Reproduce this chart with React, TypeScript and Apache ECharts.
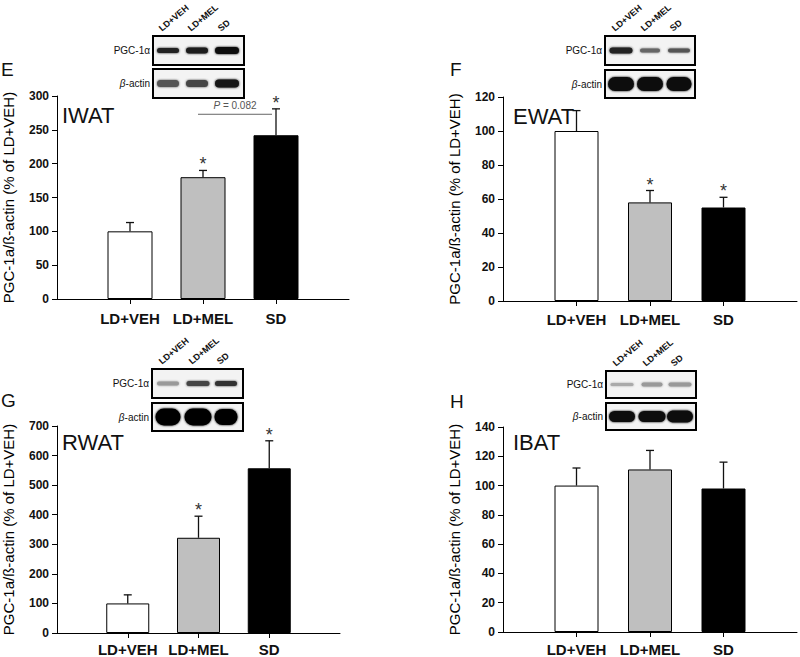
import React, { useEffect, useRef } from 'react';
import * as echarts from 'echarts';

const categories = ['LD+VEH', 'LD+MEL', 'SD'];
const iwatMean = [100, 180, 242];
const iwatErr = [13, 10, 39];
const iwatSig = [0, 1, 1];
const ewatMean = [100, 58, 55];
const ewatErr = [12, 7, 6];
const ewatSig = [0, 1, 1];
const rwatMean = [100, 322, 557];
const rwatErr = [29, 73, 93];
const rwatSig = [0, 1, 1];
const ibatMean = [100, 111, 98];
const ibatErr = [12, 13, 18];
const ibatSig = [0, 0, 0];
// bracket in IWAT: from category index, to category index, value
const iwatBracket = [1, 2, 273];
const iwatBracketLabel = '{i|P} = 0.082';
const panelLetters = ['E', 'F', 'G', 'H'];
const tissueNames = ['IWAT', 'EWAT', 'RWAT', 'IBAT'];
const yMax = [300, 120, 700, 140];
const yInterval = [50, 20, 100, 20];
const barColors = ['#ffffff', '#bfbfbf', '#000000'];
const yAxisName = 'PGC-1a/ß-actin (% of LD+VEH)';
const blotLanes = ['LD+VEH', 'LD+MEL', 'SD'];

const FF = '"Liberation Sans", Arial, Helvetica, sans-serif';

const means = [iwatMean, ewatMean, rwatMean, ibatMean];
const errs = [iwatErr, ewatErr, rwatErr, ibatErr];
const sigs = [iwatSig, ewatSig, rwatSig, ibatSig];

const layouts = [
  { left: 55, top: 96, width: 294, height: 203, barWidth: 45, labelMargin: 12, letterX: 1, letterY: 69, nameX: 62, nameY: 115 },
  { left: 503, top: 97, width: 295, height: 204, barWidth: 44, labelMargin: 11, letterX: 450, letterY: 69, nameX: 513, nameY: 116 },
  { left: 55, top: 426, width: 285, height: 207, barWidth: 43, labelMargin: 9, letterX: 1, letterY: 400, nameX: 62, nameY: 442 },
  { left: 503, top: 427, width: 295, height: 205, barWidth: 44, labelMargin: 10, letterX: 450, letterY: 401, nameX: 513, nameY: 442 },
];

// western blot insets (decorative)
const blots = [
  {
    x: 153, w: 91, y1: 36, h1: 29, y2: 69, h2: 29, lanes: [15, 44, 74],
    pgc: [[22, 5, '#222'], [22, 6, '#1c1c1c'], [24, 7, '#0e0e0e']],
    act: [[22, 7, '#555'], [22, 7, '#444'], [24, 8, '#151515']],
  },
  {
    x: 605, w: 90, y1: 36, h1: 29, y2: 70, h2: 28, lanes: [16, 45, 74],
    pgc: [[23, 6, '#222'], [20, 4, '#666'], [22, 4, '#555']],
    act: [[26, 14, '#0a0a0a'], [26, 14, '#0a0a0a'], [25, 14, '#0a0a0a']],
  },
  {
    x: 152, w: 91, y1: 369, h1: 29, y2: 403, h2: 28, lanes: [16, 46, 74],
    pgc: [[22, 4, '#999'], [23, 5, '#444'], [22, 5, '#333']],
    act: [[25, 17, '#050505'], [27, 17, '#050505'], [23, 16, '#050505']],
  },
  {
    x: 606, w: 90, y1: 371, h1: 27, y2: 403, h2: 27, lanes: [16, 46, 74],
    pgc: [[23, 3, '#aaa'], [21, 4, '#999'], [23, 4, '#999']],
    act: [[26, 11, '#111'], [27, 11, '#111'], [26, 12, '#111']],
  },
];

function buildGraphic() {
  const g: any[] = [];
  layouts.forEach((l, i) => {
    g.push({ type: 'text', x: l.letterX, y: l.letterY, style: { text: panelLetters[i], fontSize: 19, fontFamily: FF, fill: '#111', align: 'left', verticalAlign: 'middle' } });
    g.push({ type: 'text', x: l.nameX, y: l.nameY, style: { text: tissueNames[i], fontSize: 22, fontFamily: FF, fill: '#111', align: 'left', verticalAlign: 'middle' } });
  });
  blots.forEach((b) => {
    const rows = [
      { y: b.y1, h: b.h1, bands: b.pgc },
      { y: b.y2, h: b.h2, bands: b.act },
    ];
    rows.forEach((r) => {
      g.push({ type: 'rect', shape: { x: b.x, y: r.y, width: b.w, height: r.h }, style: { fill: '#f3f3f3', stroke: '#000', lineWidth: 2 } });
      r.bands.forEach((bd: any, k: number) => {
        const cx = b.x + b.lanes[k];
        const cy = r.y + r.h / 2;
        g.push({
          type: 'rect',
          shape: { x: cx - bd[0] / 2, y: cy - bd[1] / 2, width: bd[0], height: bd[1], r: bd[1] / 2 },
          style: { fill: bd[2], shadowBlur: 2, shadowColor: bd[2] },
        });
      });
    });
    g.push({ type: 'text', x: b.x - 3, y: b.y1 + b.h1 / 2, style: { text: 'PGC-1α', fontSize: 10, fontFamily: FF, fill: '#111', align: 'right', verticalAlign: 'middle' } });
    g.push({
      type: 'text', x: b.x - 3, y: b.y2 + b.h2 / 2,
      style: { text: '{i|β}-actin', rich: { i: { fontStyle: 'italic', fontSize: 10, fontFamily: FF, fill: '#111' } }, fontSize: 10, fontFamily: FF, fill: '#111', align: 'right', verticalAlign: 'middle' },
    });
    blotLanes.forEach((t, k) => {
      g.push({
        type: 'text', x: b.x + b.lanes[k] - 5, y: b.y1 - 3, rotation: 0.7,
        style: { text: t, fontSize: 9, fontWeight: 'bold', fontFamily: FF, fill: '#111', align: 'left', verticalAlign: 'bottom' },
      });
    });
  });
  return g;
}

function errorRender(params: any, api: any) {
  const x = api.value(0);
  const m = api.value(1);
  const e = api.value(2);
  const s = api.value(3);
  const p0 = api.coord([x, m]);
  const p1 = api.coord([x, m + e]);
  const children: any[] = [
    { type: 'line', shape: { x1: p0[0], y1: p0[1], x2: p1[0], y2: p1[1] }, style: { stroke: '#111', lineWidth: 1.3 } },
    { type: 'line', shape: { x1: p1[0] - 4, y1: p1[1], x2: p1[0] + 4, y2: p1[1] }, style: { stroke: '#111', lineWidth: 1.3 } },
  ];
  if (s) {
    children.push({ type: 'text', x: p1[0], y: p1[1] - 6, style: { text: '*', fontSize: 18, fontFamily: FF, fill: '#333', align: 'center', verticalAlign: 'middle' } });
  }
  return { type: 'group', children };
}

function bracketRender(params: any, api: any) {
  const a = api.coord([api.value(0), api.value(2)]);
  const b = api.coord([api.value(1), api.value(2)]);
  const x1 = a[0] - 5;
  const x2 = b[0] - 4;
  return {
    type: 'group',
    children: [
      { type: 'line', shape: { x1, y1: a[1], x2, y2: a[1] }, style: { stroke: '#666', lineWidth: 1 } },
      {
        type: 'text', x: (x1 + x2) / 2, y: a[1] - 9,
        style: { text: iwatBracketLabel, rich: { i: { fontStyle: 'italic', fontSize: 10, fontFamily: FF, fill: '#555' } }, fontSize: 10, fontFamily: FF, fill: '#555', align: 'center', verticalAlign: 'middle' },
      },
    ],
  };
}

export default function App() {
  const ref = useRef<HTMLDivElement>(null);
  useEffect(() => {
    if (!ref.current) return;
    const chart = echarts.init(ref.current, null, { renderer: 'svg' });
    const catData = ['', ...categories, ''];
    const grid = layouts.map((l) => ({ left: l.left, top: l.top, width: l.width, height: l.height, containLabel: false }));
    const xAxis = layouts.map((l, i) => ({
      type: 'category',
      gridIndex: i,
      data: catData,
      boundaryGap: false,
      axisLine: { lineStyle: { color: '#000', width: 1 } },
      axisTick: { length: 5, lineStyle: { color: '#000' }, interval: (idx: number) => idx >= 1 && idx <= 3 },
      axisLabel: { interval: 0, margin: l.labelMargin, fontSize: 15, fontWeight: 'bold', color: '#111', fontFamily: FF },
      splitLine: { show: false },
    }));
    const yAxis = layouts.map((l, i) => ({
      type: 'value',
      gridIndex: i,
      min: 0,
      max: yMax[i],
      interval: yInterval[i],
      name: yAxisName,
      nameLocation: 'middle',
      nameGap: 41,
      nameTextStyle: { fontSize: 15, color: '#000', fontFamily: FF },
      axisLine: { show: true, lineStyle: { color: '#000', width: 1 } },
      axisTick: { show: true, length: 5, lineStyle: { color: '#000' } },
      axisLabel: { margin: 8, fontSize: 12, fontWeight: 'bold', color: '#111', fontFamily: FF },
      splitLine: { show: false },
    }));
    const series: any[] = [];
    layouts.forEach((l, i) => {
      series.push({
        type: 'bar',
        xAxisIndex: i,
        yAxisIndex: i,
        barWidth: l.barWidth,
        itemStyle: { borderColor: '#000', borderWidth: 1 },
        data: ['-', ...means[i].map((v, j) => ({ value: v, itemStyle: { color: barColors[j] } })), '-'],
        z: 2,
      });
      series.push({
        type: 'custom',
        xAxisIndex: i,
        yAxisIndex: i,
        renderItem: errorRender,
        encode: { x: 0, y: 1 },
        data: means[i].map((v, j) => [j + 1, v, errs[i][j], sigs[i][j]]),
        z: 3,
      });
    });
    series.push({
      type: 'custom',
      xAxisIndex: 0,
      yAxisIndex: 0,
      renderItem: bracketRender,
      encode: { x: [0, 1], y: 2 },
      data: [[iwatBracket[0] + 1, iwatBracket[1] + 1, iwatBracket[2]]],
      z: 3,
    });
    chart.setOption({
      animation: false,
      backgroundColor: '#ffffff',
      textStyle: { fontFamily: FF },
      grid,
      xAxis,
      yAxis,
      series,
      graphic: buildGraphic(),
    });
    return () => chart.dispose();
  }, []);
  return <div ref={ref} style={{ position: 'absolute', left: 0, top: 0, width: 800, height: 657 }} />;
}
